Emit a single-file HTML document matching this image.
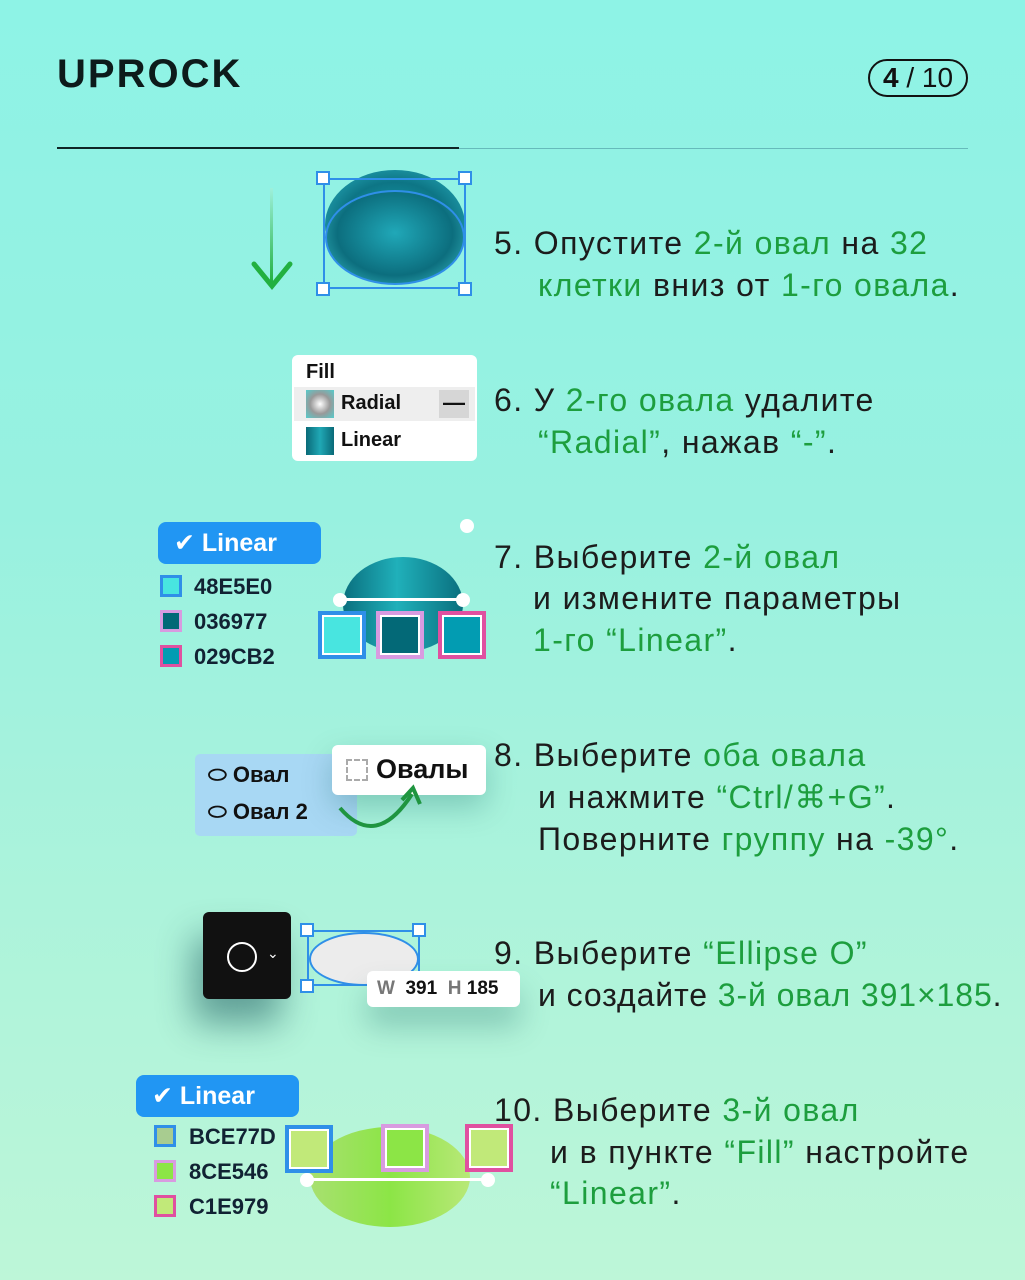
<!DOCTYPE html>
<html><head><meta charset="utf-8">
<style>
*{margin:0;padding:0;box-sizing:border-box}
body{width:1025px;height:1280px;overflow:hidden;position:relative;
background:linear-gradient(180deg,#8ef3e6 0%,#98f1e0 40%,#acf3db 70%,#bdf6d8 100%);
font-family:"Liberation Sans","DejaVu Sans",sans-serif;color:#111}
.a{position:absolute}
.t{position:absolute;font-size:32px;line-height:42px;color:#1c1c1c;white-space:nowrap;letter-spacing:1.4px}
.g{color:#1d9e3e}
.box{position:absolute;border:2px solid #2f8fe8}
.h{position:absolute;width:14px;height:14px;background:#fff;border:2px solid #2f8fe8}
.sw{position:absolute;width:22px;height:22px}
.lab{position:absolute;font-size:22px;font-weight:bold;color:#123}
.pill{position:absolute;background:#2196f3;color:#fff;font-weight:bold;font-size:25px;border-radius:8px;padding-left:16px;line-height:42px}
</style></head><body>
<div class="a" style="left:57px;top:52px;font-size:40px;font-weight:bold;letter-spacing:2px;color:#0d1b1b">UPROCK</div>
<div class="a" style="left:868px;top:59px;width:100px;height:38px;border:2.5px solid #111;border-radius:20px;font-size:28px;line-height:33px;text-align:center"><b>4</b> / 10</div>
<div class="a" style="left:57px;top:147px;width:402px;height:2px;background:#0f2525"></div>
<div class="a" style="left:459px;top:148px;width:509px;height:1px;background:#6bb"></div>

<!-- 5 -->
<div class="a" style="left:270px;top:188px;width:3px;height:95px;background:linear-gradient(#9ef0dc,#22b040)"></div>
<svg class="a" style="left:250px;top:258px" width="46" height="36"><polyline points="4,6 22,28 40,6" fill="none" stroke="#22b040" stroke-width="5" stroke-linecap="round"/></svg>
<div class="a" style="left:325px;top:170px;width:140px;height:110px;border-radius:50%;background:radial-gradient(ellipse at 50% 50%,#1aa5b5,#0d7585 55%,#2fb8c8)"></div>
<div class="a" style="left:325px;top:190px;width:140px;height:95px;border-radius:50%;border:2px solid #2f8fe8;background:radial-gradient(ellipse at 50% 45%,#20a8b8,#0c6e7e 60%,#3ec5cc)"></div>
<div class="box" style="left:323px;top:178px;width:143px;height:111px"></div>
<div class="h" style="left:316px;top:171px"></div><div class="h" style="left:458px;top:171px"></div>
<div class="h" style="left:316px;top:282px"></div><div class="h" style="left:458px;top:282px"></div>
<div class="t" style="left:494px;top:222px">5. Опустите <span class="g">2-й овал</span> на <span class="g">32</span></div>
<div class="t" style="left:538px;top:264px"><span class="g">клетки</span> вниз от <span class="g">1-го овала</span>.</div>

<!-- 6 -->
<div class="a" style="left:292px;top:355px;width:185px;height:106px;background:#fff;border-radius:6px"></div>
<div class="a" style="left:306px;top:361px;font-size:20px;font-weight:bold">Fill</div>
<div class="a" style="left:294px;top:387px;width:181px;height:34px;background:#eee"></div>
<div class="a" style="left:306px;top:390px;width:28px;height:28px;background:radial-gradient(#fff,#999 50%,#5cc 100%)"></div>
<div class="a" style="left:341px;top:392px;font-size:20px;font-weight:bold">Radial</div>
<div class="a" style="left:439px;top:390px;width:30px;height:28px;background:#d6d6d6;font-size:22px;text-align:center;line-height:26px;font-weight:bold">—</div>
<div class="a" style="left:306px;top:427px;width:28px;height:28px;background:linear-gradient(90deg,#0a6a78,#20a8b5,#0a6a78)"></div>
<div class="a" style="left:341px;top:429px;font-size:20px;font-weight:bold">Linear</div>
<div class="t" style="left:494px;top:379px">6. У <span class="g">2-го овала</span> удалите</div>
<div class="t" style="left:538px;top:421px"><span class="g">“Radial”</span>, нажав <span class="g">“-”</span>.</div>

<!-- 7 -->
<div class="a" style="left:460px;top:519px;width:14px;height:14px;border-radius:50%;background:#fff"></div>
<div class="pill" style="left:158px;top:522px;width:163px;height:42px">✔ Linear</div>
<div class="sw" style="left:160px;top:575px;background:#48e5e0;border:3px solid #2f8fe8"></div>
<div class="lab" style="left:194px;top:574px">48E5E0</div>
<div class="sw" style="left:160px;top:610px;background:#036977;border:3px solid #d89be0"></div>
<div class="lab" style="left:194px;top:609px">036977</div>
<div class="sw" style="left:160px;top:645px;background:#029cb2;border:3px solid #e050a0"></div>
<div class="lab" style="left:194px;top:644px">029CB2</div>
<div class="a" style="left:343px;top:557px;width:120px;height:95px;border-radius:50%;background:linear-gradient(90deg,#0a6f7e,#20b0ba 45%,#0a6f7e)"></div>
<div class="a" style="left:340px;top:598px;width:124px;height:3px;background:#fff"></div>
<div class="a" style="left:333px;top:593px;width:14px;height:14px;border-radius:50%;background:#fff"></div>
<div class="a" style="left:456px;top:593px;width:14px;height:14px;border-radius:50%;background:#fff"></div>
<div class="a" style="left:318px;top:611px;width:48px;height:48px;background:#48e5e0;border:4px solid #2f8fe8;box-shadow:inset 0 0 0 2px #fff"></div>
<div class="a" style="left:376px;top:611px;width:48px;height:48px;background:#036977;border:4px solid #d89be0;box-shadow:inset 0 0 0 2px #fff"></div>
<div class="a" style="left:438px;top:611px;width:48px;height:48px;background:#029cb2;border:4px solid #e050a0;box-shadow:inset 0 0 0 2px #fff"></div>
<div class="t" style="left:494px;top:536px">7. Выберите <span class="g">2-й овал</span></div>
<div class="t" style="left:533px;top:577px">и измените параметры</div>
<div class="t" style="left:533px;top:619px"><span class="g">1-го “Linear”</span>.</div>

<!-- 8 -->
<div class="a" style="left:195px;top:754px;width:162px;height:82px;background:#a8d8f4;border-radius:5px"></div>
<div class="a" style="left:208px;top:762px;font-size:22px;font-weight:bold">⬭ Овал</div>
<div class="a" style="left:208px;top:799px;font-size:22px;font-weight:bold">⬭ Овал 2</div>
<div class="a" style="left:332px;top:745px;width:154px;height:50px;background:#fff;border-radius:6px;box-shadow:0 12px 30px rgba(0,80,80,.25)"></div>
<div class="a" style="left:346px;top:759px;width:22px;height:22px;border:2px dashed #aaa"></div>
<div class="a" style="left:376px;top:754px;font-size:27px;font-weight:bold">Овалы</div>
<svg class="a" style="left:336px;top:780px" width="90" height="60"><path d="M4,28 Q40,70 76,14" fill="none" stroke="#1f9540" stroke-width="4"/><polyline points="66,20 77,8 84,24" fill="none" stroke="#1f9540" stroke-width="4"/></svg>
<div class="t" style="left:494px;top:734px">8. Выберите <span class="g">оба овала</span></div>
<div class="t" style="left:538px;top:776px">и нажмите <span class="g">“Ctrl/⌘+G”</span>.</div>
<div class="t" style="left:538px;top:818px">Поверните <span class="g">группу</span> на <span class="g">-39°</span>.</div>

<!-- 9 -->
<div class="a" style="left:203px;top:912px;width:88px;height:87px;background:#111;border-radius:6px;box-shadow:-10px 25px 35px rgba(0,60,70,.45)"></div>
<div class="a" style="left:227px;top:942px;width:30px;height:30px;border:2px solid #fff;border-radius:50%"></div>
<div class="a" style="left:267px;top:945px;color:#fff;font-size:14px">⌄</div>
<div class="a" style="left:309px;top:932px;width:110px;height:54px;border-radius:50%;background:#ececec;border:2px solid #2f8fe8"></div>
<div class="box" style="left:307px;top:930px;width:113px;height:56px"></div>
<div class="h" style="left:300px;top:923px"></div><div class="h" style="left:412px;top:923px"></div>
<div class="h" style="left:300px;top:979px"></div>
<div class="a" style="left:367px;top:971px;width:153px;height:36px;background:#fff;border-radius:6px;font-size:19px;line-height:36px;padding-left:10px;font-weight:bold;box-shadow:0 20px 30px rgba(0,80,80,.25)"><span style="color:#777">W</span>&nbsp; 391 &nbsp;<span style="color:#777">H</span> 185</div>
<div class="t" style="left:494px;top:932px">9. Выберите <span class="g">“Ellipse O”</span></div>
<div class="t" style="left:538px;top:974px;letter-spacing:0.9px">и создайте <span class="g">3-й овал 391×185</span>.</div>

<!-- 10 -->
<div class="pill" style="left:136px;top:1075px;width:163px;height:42px">✔ Linear</div>
<div class="sw" style="left:154px;top:1125px;background:#a8cc90;border:3px solid #2f8fe8"></div>
<div class="lab" style="left:189px;top:1124px">BCE77D</div>
<div class="sw" style="left:154px;top:1160px;background:#8ce546;border:3px solid #d89be0"></div>
<div class="lab" style="left:189px;top:1159px">8CE546</div>
<div class="sw" style="left:154px;top:1195px;background:#c1e979;border:3px solid #e050a0"></div>
<div class="lab" style="left:189px;top:1194px">C1E979</div>
<div class="a" style="left:310px;top:1127px;width:160px;height:100px;border-radius:50%;background:linear-gradient(90deg,#a8e070,#8ce546 50%,#b8e878)"></div>
<div class="a" style="left:305px;top:1178px;width:185px;height:3px;background:#fff"></div>
<div class="a" style="left:300px;top:1173px;width:14px;height:14px;border-radius:50%;background:#fff"></div>
<div class="a" style="left:481px;top:1173px;width:14px;height:14px;border-radius:50%;background:#fff"></div>
<div class="a" style="left:285px;top:1125px;width:48px;height:48px;background:#c1e979;border:4px solid #2f8fe8;box-shadow:inset 0 0 0 2px #fff"></div>
<div class="a" style="left:381px;top:1124px;width:48px;height:48px;background:#8ce546;border:4px solid #d89be0;box-shadow:inset 0 0 0 2px #fff"></div>
<div class="a" style="left:465px;top:1124px;width:48px;height:48px;background:#c1e979;border:4px solid #e050a0;box-shadow:inset 0 0 0 2px #fff"></div>
<div class="t" style="left:494px;top:1089px">10. Выберите <span class="g">3-й овал</span></div>
<div class="t" style="left:550px;top:1131px">и в пункте <span class="g">“Fill”</span> настройте</div>
<div class="t" style="left:550px;top:1172px"><span class="g">“Linear”</span>.</div>
</body></html>
